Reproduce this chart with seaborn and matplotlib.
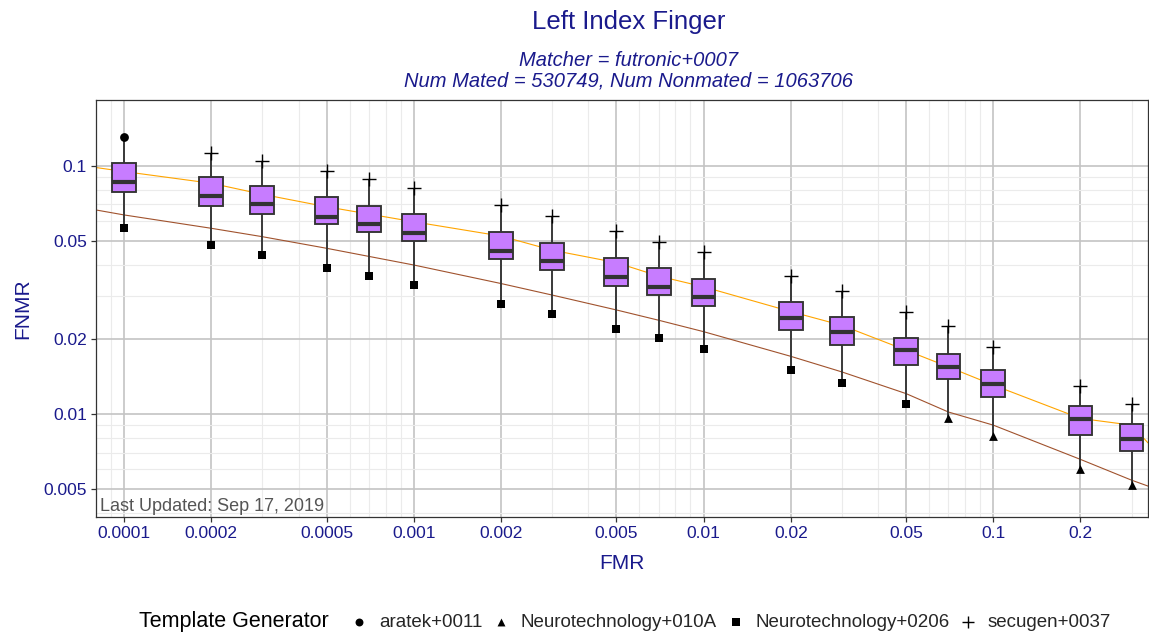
import numpy as np
import pandas as pd
import matplotlib.pyplot as plt
import seaborn as sns

sns.set_style("white")
plt.rcParams['font.family'] = ['Liberation Sans', 'DejaVu Sans']

# --- data ---
fmr = [0.0001, 0.0002, 0.0003, 0.0005, 0.0007, 0.001, 0.002, 0.003, 0.005,
       0.007, 0.01, 0.02, 0.03, 0.05, 0.07, 0.1, 0.2, 0.3]
fnmr_max = [0.1312, 0.1131, 0.1047, 0.0955, 0.0889, 0.0818, 0.0696, 0.0629, 0.0547,
            0.0495, 0.0451, 0.0360, 0.0313, 0.0258, 0.0227, 0.0187, 0.0130, 0.0110]
fnmr_q3 = [0.1025, 0.0900, 0.0831, 0.0752, 0.0690, 0.0640, 0.0540, 0.0490, 0.0427,
           0.0389, 0.0351, 0.0284, 0.0247, 0.0203, 0.0175, 0.0150, 0.0108, 0.00909]
fnmr_med = [0.0864, 0.0759, 0.0701, 0.0625, 0.0584, 0.0538, 0.0455, 0.0413, 0.0358,
            0.0326, 0.0296, 0.0243, 0.0215, 0.0181, 0.0155, 0.0132, 0.00954, 0.00795]
fnmr_q1 = [0.0783, 0.0690, 0.0640, 0.0582, 0.0542, 0.0498, 0.0422, 0.0381, 0.0329,
           0.0302, 0.0272, 0.0218, 0.0190, 0.0158, 0.0139, 0.0117, 0.00825, 0.00711]
fnmr_min = [0.0564, 0.0480, 0.0438, 0.0389, 0.0360, 0.0333, 0.0278, 0.0253, 0.0220,
            0.0203, 0.0183, 0.0150, 0.0133, 0.0110, 0.00964, 0.00818, 0.00600, 0.00520]

# which template generator gives the max / min at each FMR
gen_max = ['aratek+0011'] + ['secugen+0037'] * 17
gen_min = ['Neurotechnology+0206'] * 14 + ['Neurotechnology+010A'] * 4

# the two DET curves
curve_fmr = [8.0e-5, 0.0001, 0.0002, 0.0003, 0.0005, 0.001, 0.002, 0.003, 0.005,
             0.007, 0.01, 0.02, 0.03, 0.05, 0.07, 0.1, 0.2, 0.3, 0.342]
orange_fnmr = [0.0986, 0.0950, 0.0852, 0.0769, 0.0685, 0.0596, 0.0522, 0.0458, 0.0408,
               0.0360, 0.0326, 0.0259, 0.0228, 0.0181, 0.0155, 0.0131, 0.00961, 0.00903, 0.00766]
brown_fnmr = [0.0665, 0.0635, 0.0561, 0.0519, 0.0466, 0.0399, 0.0336, 0.0302, 0.0263,
              0.0239, 0.0215, 0.0171, 0.0148, 0.0121, 0.0102, 0.00903, 0.00657, 0.00542, 0.00513]

generators = ['aratek+0011', 'Neurotechnology+010A', 'Neurotechnology+0206', 'secugen+0037']
marker_map = {'aratek+0011': 'o', 'Neurotechnology+010A': '^',
              'Neurotechnology+0206': 's', 'secugen+0037': '+'}

# long table for the boxes (5 summary values per FMR -> exact quartiles)
box_df = pd.DataFrame({
    'fmr': np.repeat(fmr, 5),
    'fnmr': np.column_stack([fnmr_min, fnmr_q1, fnmr_med, fnmr_q3, fnmr_max]).ravel(),
})
pts_df = pd.DataFrame({
    'fmr': fmr + fmr,
    'fnmr': fnmr_max + fnmr_min,
    'generator': gen_max + gen_min,
})

navy = '#1A1A8C'
dark = '#333333'

fig = plt.figure(figsize=(11.49, 6.33), dpi=100)
ax = fig.add_axes([96 / 1149, 1 - 517 / 633, 1052 / 1149, 417 / 633])

minor = [k * 10.0 ** n for n in range(-5, 0) for k in (3, 4, 6, 7, 8, 9)]
ax.set_xscale('log')
ax.set_yscale('log')

sns.lineplot(x=curve_fmr, y=orange_fnmr, color='#FFA500', linewidth=0.8,
             sort=False, estimator=None, ax=ax, zorder=2)
sns.lineplot(x=curve_fmr, y=brown_fnmr, color='#A0522D', linewidth=0.8,
             sort=False, estimator=None, ax=ax, zorder=2)

sns.boxplot(data=box_df, x='fmr', y='fnmr', native_scale=True, log_scale=(True, True),
            whis=np.inf, width=0.56, color='#C77CFF', saturation=1,
            linecolor=dark, linewidth=1.35,
            medianprops={'linewidth': 3.0, 'color': dark},
            capprops={'linewidth': 0}, ax=ax, zorder=3)

for g in generators:
    sub = pts_df[pts_df['generator'] == g]
    m = marker_map[g]
    if m == '+':
        sns.scatterplot(x=sub['fmr'], y=sub['fnmr'], marker=m, s=100, color='black',
                        linewidth=1.0, label=g, ax=ax, zorder=4)
    else:
        sns.scatterplot(x=sub['fmr'], y=sub['fnmr'], marker=m, s=40, color='black',
                        linewidth=0, label=g, ax=ax, zorder=4)

ax.set_xlim(8.0e-5, 0.342)
ax.set_ylim(0.00385, 0.1845)

xt = [0.0001, 0.0002, 0.0005, 0.001, 0.002, 0.005, 0.01, 0.02, 0.05, 0.1, 0.2]
ax.set_xticks(xt)
ax.set_xticklabels(['0.0001', '0.0002', '0.0005', '0.001', '0.002', '0.005',
                    '0.01', '0.02', '0.05', '0.1', '0.2'])
ax.set_xticks([v for v in minor if 8.0e-5 < v < 0.342], minor=True)
yt = [0.005, 0.01, 0.02, 0.05, 0.1]
ax.set_yticks(yt)
ax.set_yticklabels(['0.005', '0.01', '0.02', '0.05', '0.1'])
ax.set_yticks([v for v in minor if 0.00385 < v < 0.1845], minor=True)

ax.grid(True, which='major', color='#C4C4C4', linewidth=1.2, zorder=0)
ax.grid(True, which='minor', color='#EBEBEB', linewidth=0.8, zorder=0)
ax.set_axisbelow(True)

ax.tick_params(which='major', direction='out', length=3.5, width=0.9, color=dark,
               labelsize=12.5, labelcolor=navy, pad=3, bottom=True, left=True)
ax.tick_params(which='minor', length=0)
for s in ax.spines.values():
    s.set_color(dark)
    s.set_linewidth(0.9)

ax.set_xlabel('FMR', fontsize=15, color=navy, labelpad=9)
ax.set_ylabel('FNMR', fontsize=15, color=navy, labelpad=8)

ax.text(0.004, 0.004, 'Last Updated: Sep 17, 2019', transform=ax.transAxes,
        fontsize=13, color='#555555', ha='left', va='bottom', zorder=5)

# titles
fig.text(629 / 1149, 1 - 22 / 633, 'Left Index Finger', fontsize=18.5, color=navy,
         ha='center', va='center')
fig.text(629 / 1149, 1 - 60 / 633, 'Matcher = futronic+0007', fontsize=14.5, color=navy,
         style='italic', ha='center', va='center')
fig.text(629 / 1149, 1 - 81 / 633, 'Num Mated = 530749, Num Nonmated = 1063706',
         fontsize=14.5, color=navy, style='italic', ha='center', va='center')

# legend along the bottom
handles, labels = ax.get_legend_handles_labels()
if ax.get_legend() is not None:
    ax.get_legend().remove()
keep = [(h, l) for h, l in zip(handles, labels) if l in generators]
fig.text(139 / 1149, 1 - 622 / 633, 'Template Generator', fontsize=15.5, color='black',
         ha='left', va='center')
fig.legend([h for h, _ in keep], [l for _, l in keep], ncol=4, frameon=False,
           loc='center left', bbox_to_anchor=(331 / 1149, 1 - 622 / 633),
           fontsize=13.5, markerscale=0.9, handletextpad=0.45, columnspacing=0.4,
           handlelength=1.2)

plt.savefig('out.png', dpi=100)
